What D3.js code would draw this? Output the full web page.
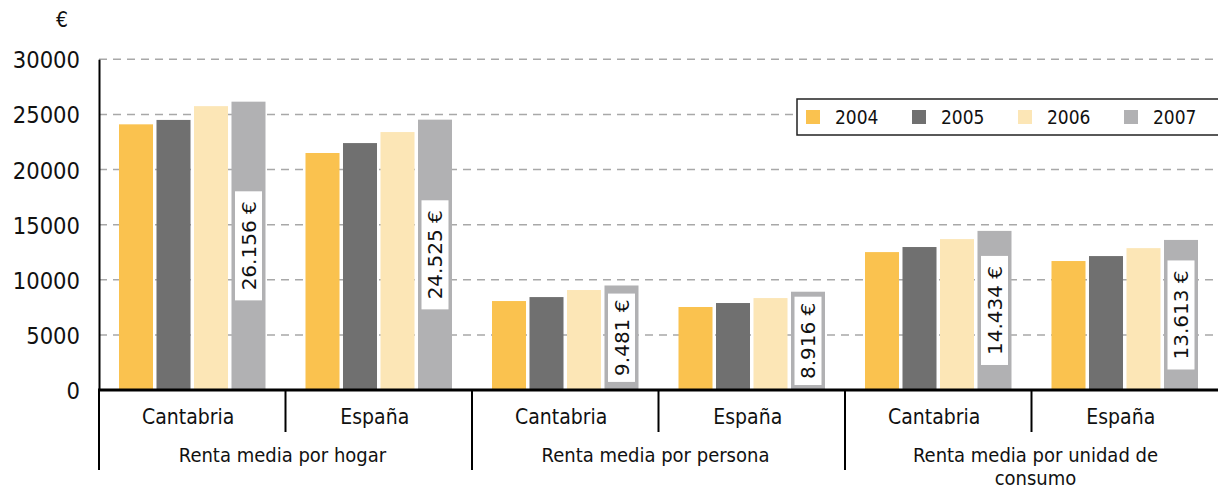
<!DOCTYPE html>
<html>
<head>
<meta charset="utf-8">
<script src="https://cdn.jsdelivr.net/npm/d3@7"></script>
<style>
  body { margin: 0; background: #fff; }
  text { font-family: "DejaVu Sans Condensed", "DejaVu Sans", sans-serif; fill: #111; }
</style>
</head>
<body>
<script>
const years = ["2004", "2005", "2006", "2007"];
const measures = ["Renta media por hogar", "Renta media por persona", "Renta media por unidad de consumo"];
const regions = ["Cantabria", "España"];
const v2004 = [24100, 21500, 8070, 7530, 12510, 11700];
const v2005 = [24500, 22400, 8430, 7890, 12970, 12150];
const v2006 = [25750, 23400, 9070, 8340, 13690, 12870];
const v2007 = [26156, 24525, 9481, 8916, 14434, 13613];
const yTicks = [0, 5000, 10000, 15000, 20000, 25000, 30000];
const colors = ["#fac24f", "#707070", "#fce6b6", "#b1b1b3"];

const width = 1218, height = 493;
const plotLeft = 99, plotRight = 1218, plotTop = 59.3, plotBottom = 390;

const cells = measures.flatMap((m, i) => regions.map((r) => ({ measure: m, region: r, key: `${i}-${r}` })));
const series = [v2004, v2005, v2006, v2007];
cells.forEach((c, i) => (c.values = series.map((s) => s[i])));

const svg = d3.select("body").append("svg").attr("width", width).attr("height", height);

const x0 = d3.scaleBand().domain(cells.map((c) => c.key)).range([plotLeft, plotRight]);
const x1 = d3.scaleBand().domain(years).range([20, x0.bandwidth() - 20]).paddingInner(0.093);
const y = d3.scaleLinear().domain([0, 30000]).range([plotBottom, plotTop]);

// gridlines
svg.append("g")
  .selectAll("line")
  .data(yTicks.filter((t) => t > 0))
  .join("line")
  .attr("x1", plotLeft).attr("x2", plotRight)
  .attr("y1", (d) => y(d)).attr("y2", (d) => y(d))
  .attr("stroke", "#a8a8a8")
  .attr("stroke-width", 1.5)
  .attr("stroke-dasharray", "8,6");

// y axis
const yAxis = svg.append("g")
  .attr("transform", `translate(${plotLeft},0)`)
  .call(d3.axisLeft(y).tickValues(yTicks).tickSize(0).tickPadding(19).tickFormat(d3.format("d")));
yAxis.select(".domain").attr("stroke", "#000").attr("stroke-width", 2);
yAxis.selectAll("text")
  .style("font-family", "DejaVu Sans Condensed, sans-serif")
  .style("font-size", "23.5px")
  .attr("fill", "#111")
  .attr("dy", "0.36em");

svg.append("text")
  .attr("x", 62).attr("y", 27)
  .attr("text-anchor", "middle")
  .style("font-size", "21px")
  .text("€");

// bars
const cell = svg.append("g")
  .selectAll("g")
  .data(cells)
  .join("g")
  .attr("transform", (d) => `translate(${x0(d.key)},0)`);

cell.selectAll("rect")
  .data((d) => d.values.map((v, i) => ({ year: years[i], value: v, i })))
  .join("rect")
  .attr("x", (d) => x1(d.year))
  .attr("width", x1.bandwidth())
  .attr("y", (d) => y(d.value))
  .attr("height", (d) => y(0) - y(d.value))
  .attr("fill", (d) => colors[d.i]);

// value labels on 2007 bars
const locale = d3.formatLocale({ decimal: ",", thousands: ".", grouping: [3], currency: ["", " €"] });
const fmt = locale.format(",d");

cell.each(function (d) {
  const v = d.values[3];
  const g = d3.select(this).append("g");
  const t = g.append("text")
    .attr("text-anchor", "middle")
    .attr("dy", "0.36em")
    .style("font-family", "DejaVu Sans, sans-serif")
    .style("font-size", "20px")
    .text(`${fmt(v)} €`);
  const tl = t.node().getComputedTextLength();
  const barH = y(0) - y(v);
  // Short bars get a tighter box, as in the original.
  const len = tl + (barH > tl + 40 ? 20 : 12);
  const cx = x1("2007") + x1.bandwidth() / 2;
  const cy = Math.max((y(v) + y(0)) / 2, y(v) + 4 + len / 2);
  g.attr("transform", `translate(${cx},${cy}) rotate(-90)`);
  g.insert("rect", "text")
    .attr("x", -len / 2).attr("y", -13.5)
    .attr("width", len).attr("height", 27)
    .attr("fill", "#fff");
});

// baseline
svg.append("line")
  .attr("x1", plotLeft - 1).attr("x2", plotRight)
  .attr("y1", plotBottom).attr("y2", plotBottom)
  .attr("stroke", "#000").attr("stroke-width", 3);

// category separators
const seps = svg.append("g").attr("stroke", "#000").attr("stroke-width", 2);
cells.forEach((c, i) => {
  const xx = x0(c.key);
  seps.append("line")
    .attr("x1", xx).attr("x2", xx)
    .attr("y1", plotBottom).attr("y2", i % 2 === 0 ? 470 : 432);
});

// region labels
svg.append("g")
  .selectAll("text")
  .data(cells)
  .join("text")
  .attr("x", (d) => x0(d.key) + x0.bandwidth() / 2 - 4)
  .attr("y", 424)
  .attr("text-anchor", "middle")
  .style("font-size", "21px")
  .text((d) => d.region);

// measure labels
const mLabels = [["Renta media por hogar"], ["Renta media por persona"], ["Renta media por unidad de", "consumo"]];
svg.append("g")
  .selectAll("text")
  .data(measures)
  .join("text")
  .attr("y", 462)
  .attr("text-anchor", "middle")
  .style("font-size", "20px")
  .each(function (d, i) {
    d3.select(this).selectAll("tspan")
      .data(mLabels[i])
      .join("tspan")
      .attr("x", x0(`${i}-Cantabria`) + x0.bandwidth() + (i === 2 ? 4 : -3))
      .attr("dy", (s, j) => (j === 0 ? 0 : 23.4))
      .text((s) => s);
  });

// legend
const legend = svg.append("g");
legend.append("rect")
  .attr("x", 797).attr("y", 99)
  .attr("width", 430).attr("height", 36)
  .attr("fill", "#fff")
  .attr("stroke", "#222")
  .attr("stroke-width", 1.5);
const item = legend.selectAll("g.item")
  .data(years)
  .join("g")
  .attr("class", "item")
  .attr("transform", (d, i) => `translate(${806 + i * 106},110)`);
item.append("rect")
  .attr("width", 14).attr("height", 14)
  .attr("fill", (d, i) => colors[i]);
item.append("text")
  .attr("x", 29).attr("y", 7)
  .attr("dy", "0.36em")
  .style("font-size", "19px")
  .text((d) => d);
</script>
</body>
</html>
